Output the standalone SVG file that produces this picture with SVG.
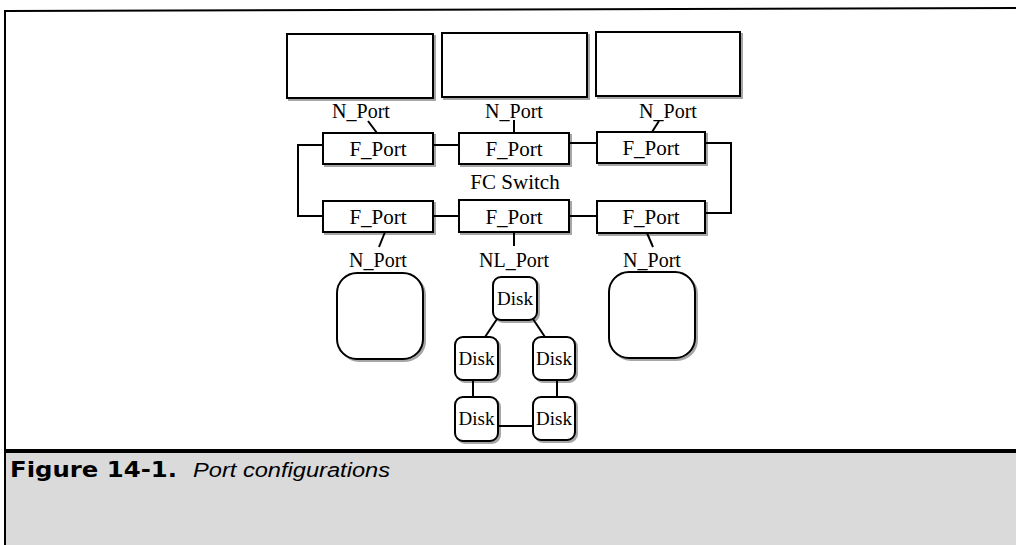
<svg xmlns="http://www.w3.org/2000/svg" width="1016" height="545" viewBox="0 0 1016 545">
<defs>
<filter id="sh" x="-10%" y="-10%" width="130%" height="130%">
<feOffset in="SourceAlpha" dx="2" dy="2" result="o"/>
<feComponentTransfer in="o" result="g"><feFuncA type="linear" slope="0.35"/></feComponentTransfer>
<feMerge><feMergeNode in="g"/><feMergeNode in="SourceGraphic"/></feMerge>
</filter>
</defs>
<style>
.box{fill:#fff;stroke:#000;stroke-width:2;filter:url(#sh)}
.lbl{font-family:"Liberation Serif",serif;font-size:21px;text-anchor:middle;fill:#000}
.sm{font-size:20px}
.dk{font-size:19px}
.conn{stroke:#000;stroke-width:2;fill:none}
</style>
<rect x="0" y="0" width="1016" height="545" fill="#fff"/>
<rect x="6" y="453" width="1010" height="92" fill="#dadada"/>
<line x1="5" y1="11" x2="1016" y2="8" stroke="#000" stroke-width="2"/>
<line x1="5" y1="10" x2="5" y2="545" stroke="#000" stroke-width="2"/>
<line x1="5" y1="451" x2="1016" y2="451" stroke="#000" stroke-width="4"/>
<text x="10" y="477" font-family="'DejaVu Sans',sans-serif" font-weight="bold" font-size="21" textLength="167" lengthAdjust="spacingAndGlyphs">Figure 14-1.</text>
<text x="193" y="477" font-family="'Liberation Sans',sans-serif" font-style="italic" font-size="20" textLength="197" lengthAdjust="spacingAndGlyphs">Port configurations</text>

<g id="connectors">
<path class="conn" d="M368,121 L377,133"/>
<path class="conn" d="M514,120 L514,133"/>
<path class="conn" d="M659,121 L652,132"/>
<path class="conn" d="M433,145 H459"/>
<path class="conn" d="M569,143 H597"/>
<path class="conn" d="M433,216 H459"/>
<path class="conn" d="M569,216 H597"/>
<path class="conn" d="M323,145 H298 V216 H323"/>
<path class="conn" d="M705,143 H731 V213 H705"/>
<path class="conn" d="M385,232 L379,247"/>
<path class="conn" d="M514,232 L514,246"/>
<path class="conn" d="M647,233 L653,247"/>
<path class="conn" d="M497,319 L485,337"/>
<path class="conn" d="M533,319 L545,337"/>
<path class="conn" d="M473,380 V397"/>
<path class="conn" d="M557,380 V397"/>
<path class="conn" d="M498,426 H533"/>
</g>

<g id="host1"><rect class="box" x="287" y="34" width="146" height="64"/></g>
<g id="host2"><rect class="box" x="442" y="33" width="145" height="64"/></g>
<g id="host3"><rect class="box" x="596" y="32" width="144" height="64"/></g>
<g id="nport1"><text class="lbl sm" x="361" y="118">N_Port</text></g>
<g id="nport2"><text class="lbl sm" x="514" y="118">N_Port</text></g>
<g id="nport3"><text class="lbl sm" x="668" y="118">N_Port</text></g>

<g id="fport1"><rect class="box" x="323" y="133" width="110" height="31"/><text class="lbl" x="378" y="156">F_Port</text></g>
<g id="fport2"><rect class="box" x="459" y="133" width="110" height="31"/><text class="lbl" x="514" y="156">F_Port</text></g>
<g id="fport3"><rect class="box" x="597" y="132" width="108" height="31"/><text class="lbl" x="651" y="155">F_Port</text></g>
<g id="fcswitch"><text class="lbl" x="515" y="189">FC Switch</text></g>
<g id="fport4"><rect class="box" x="323" y="201" width="110" height="31"/><text class="lbl" x="378" y="224">F_Port</text></g>
<g id="fport5"><rect class="box" x="459" y="200" width="110" height="32"/><text class="lbl" x="514" y="224">F_Port</text></g>
<g id="fport6"><rect class="box" x="597" y="201" width="108" height="32"/><text class="lbl" x="651" y="224">F_Port</text></g>

<g id="nport4"><text class="lbl sm" x="378" y="267">N_Port</text></g>
<g id="nlport"><text class="lbl sm" x="514" y="267">NL_Port</text></g>
<g id="nport5"><text class="lbl sm" x="652" y="267">N_Port</text></g>

<g id="node1"><rect class="box" x="337" y="273" width="86" height="86" rx="20"/></g>
<g id="node2"><rect class="box" x="609" y="272" width="86" height="86" rx="20"/></g>

<g id="disk1"><rect class="box" x="493" y="277" width="44" height="43" rx="8"/><text class="lbl dk" x="515" y="305">Disk</text></g>
<g id="disk2"><rect class="box" x="455" y="337" width="43" height="43" rx="8"/><text class="lbl dk" x="476.5" y="365">Disk</text></g>
<g id="disk3"><rect class="box" x="533" y="337" width="42" height="43" rx="8"/><text class="lbl dk" x="554" y="365">Disk</text></g>
<g id="disk4"><rect class="box" x="455" y="397" width="43" height="44" rx="8"/><text class="lbl dk" x="476.5" y="425">Disk</text></g>
<g id="disk5"><rect class="box" x="533" y="397" width="42" height="43" rx="8"/><text class="lbl dk" x="554" y="425">Disk</text></g>
</svg>
